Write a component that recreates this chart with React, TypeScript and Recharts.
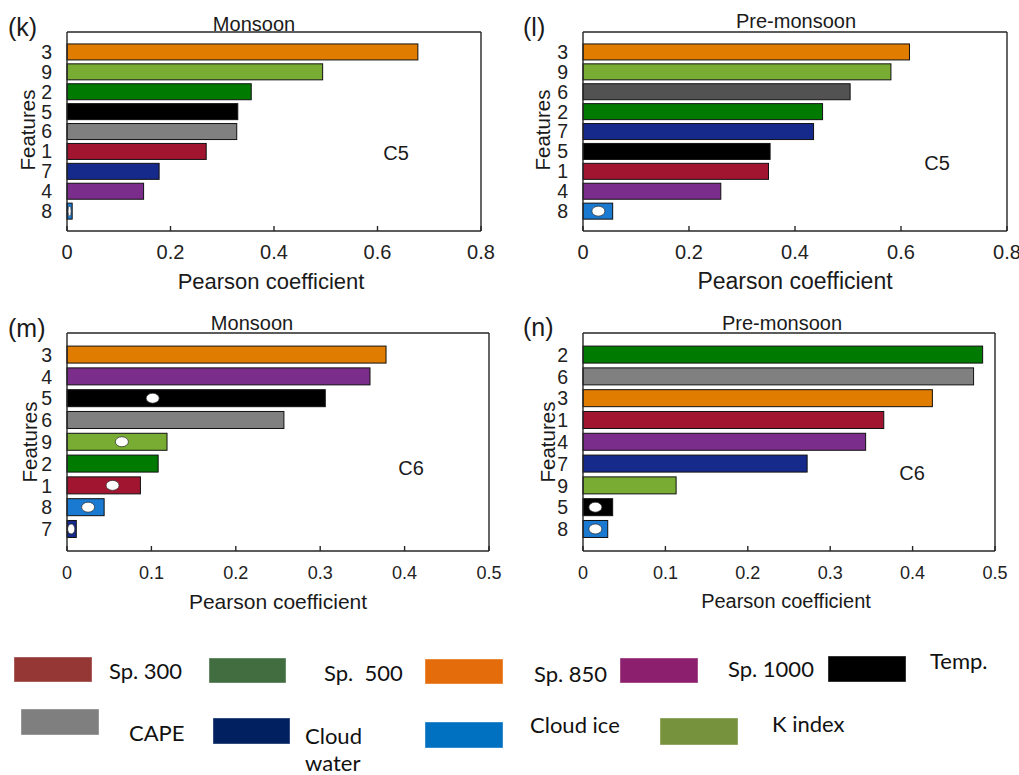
import { BarChart, Bar, XAxis, YAxis, Cell } from "recharts";

// feature id -> bar colour
const barColors: Record<string, string> = {
  "1": "#a11530",
  "2": "#007a00",
  "3": "#e07c00",
  "4": "#7b2d8b",
  "5": "#000000",
  "6": "#808080",
  "7": "#162a8c",
  "8": "#1a79d0",
  "9": "#78ac32",
};

// C5, monsoon
const kFeatures = ["3", "9", "2", "5", "6", "1", "7", "4", "8"];
const kValues = [0.678, 0.494, 0.356, 0.33, 0.328, 0.269, 0.178, 0.148, 0.01];
const kMarks = [{ feature: "8", at: 0.005 }];

// C5, pre-monsoon
const lFeatures = ["3", "9", "6", "2", "7", "5", "1", "4", "8"];
const lValues = [0.616, 0.581, 0.504, 0.452, 0.435, 0.353, 0.35, 0.26, 0.056];
const lMarks = [{ feature: "8", at: 0.029 }];

// C6, monsoon
const mFeatures = ["3", "4", "5", "6", "9", "2", "1", "8", "7"];
const mValues = [0.378, 0.359, 0.306, 0.257, 0.1185, 0.108, 0.087, 0.044, 0.011];
const mMarks = [
  { feature: "5", at: 0.1015 },
  { feature: "9", at: 0.065 },
  { feature: "1", at: 0.054 },
  { feature: "8", at: 0.025 },
  { feature: "7", at: 0.005 },
];

// C6, pre-monsoon
const nFeatures = ["2", "6", "3", "1", "4", "7", "9", "5", "8"];
const nValues = [0.485, 0.474, 0.424, 0.365, 0.343, 0.272, 0.113, 0.036, 0.03];
const nMarks = [
  { feature: "5", at: 0.015 },
  { feature: "8", at: 0.015 },
];

const ticksC5 = [0, 0.2, 0.4, 0.6, 0.8];
const ticksC6 = [0, 0.1, 0.2, 0.3, 0.4, 0.5];

const legendNames = [
  "Sp. 300",
  "Sp.\u00a0 500",
  "Sp. 850",
  "Sp. 1000",
  "Temp.",
  "CAPE",
  "Cloud water",
  "Cloud ice",
  "K index",
];
const legendColors = [
  "#953735",
  "#426d41",
  "#e46c0a",
  "#8d1f6f",
  "#000000",
  "#7f7f7f",
  "#002060",
  "#0070c0",
  "#76923c",
];

// legend placement: box rect, then text anchor (left, middle)
const legendLayout = [
  { box: [14, 657, 78, 25], text: [109, 670] },
  { box: [209, 658, 77, 25], text: [324, 672] },
  { box: [425, 659, 78, 25], text: [534, 673] },
  { box: [620, 658, 78, 25], text: [728, 668] },
  { box: [828, 656, 78, 26], text: [930, 660] },
  { box: [21, 709, 78, 26], text: [129, 732] },
  { box: [213, 718, 77, 26], text: [305, 735] },
  { box: [425, 722, 78, 26], text: [530, 724] },
  { box: [660, 718, 78, 27], text: [772, 723] },
];

const FRAME = "#262626";
const FONT = "'Liberation Sans', Arial, sans-serif";

type Mark = { feature: string; at: number };

function MarkedBar(props: any) {
  const { x, y, width, height, fill, payload } = props;
  const mark = payload.mark;
  const rx = Math.min(6.5, Math.max(1.2, width / 2 - 1));
  return (
    <g>
      <rect x={x} y={y} width={width} height={height} fill={fill} stroke="#111" strokeWidth={1} />
      {mark != null && (
        <ellipse
          cx={x + (width * mark) / payload.value}
          cy={y + height / 2}
          rx={rx}
          ry={5}
          fill="#fff"
          stroke="#222"
          strokeWidth={0.7}
        />
      )}
    </g>
  );
}

function Panel({
  features,
  values,
  marks,
  ticks,
  frame,
  tickFont,
  colorOverride = {},
}: {
  features: string[];
  values: number[];
  marks: Mark[];
  ticks: number[];
  frame: { x: number; y: number; w: number; h: number };
  tickFont: number;
  colorOverride?: Record<string, string>;
}) {
  const rows = features.map((f, i) => ({
    feature: f,
    value: values[i],
    mark: marks.find((m) => m.feature === f)?.at,
  }));
  const pad = frame.h / 20;
  const domain = [0, ticks[ticks.length - 1]];
  return (
    <div style={{ position: "absolute", left: frame.x - 60, top: frame.y - 10 }}>
      <BarChart
        width={frame.w + 81}
        height={frame.h + 60}
        data={rows}
        layout="vertical"
        barCategoryGap="10%"
        margin={{ top: 9, right: 20, bottom: 10, left: 0 }}
      >
        <XAxis
          xAxisId="bottom"
          type="number"
          domain={domain}
          ticks={ticks}
          height={40}
          tickSize={-5}
          tickMargin={tickFont === 20 ? 19 : 20}
          stroke={FRAME}
          strokeWidth={1.4}
          tick={{ fontSize: tickFont, fill: "#222", fontFamily: FONT }}
        />
        <XAxis
          xAxisId="top"
          orientation="top"
          type="number"
          domain={domain}
          ticks={ticks}
          height={1}
          tickSize={-5}
          tick={false}
          stroke={FRAME}
          strokeWidth={1.4}
        />
        <YAxis
          yAxisId="left"
          type="category"
          dataKey="feature"
          width={60}
          interval={0}
          padding={{ top: pad, bottom: pad }}
          tickLine={false}
          tickMargin={9}
          stroke={FRAME}
          strokeWidth={1.4}
          tick={{ fontSize: 19.5, fill: "#222", fontFamily: FONT }}
        />
        <YAxis
          yAxisId="right"
          orientation="right"
          type="category"
          dataKey="feature"
          width={1}
          interval={0}
          padding={{ top: pad, bottom: pad }}
          tickSize={-5}
          tick={false}
          stroke={FRAME}
          strokeWidth={1.4}
        />
        <Bar
          dataKey="value"
          xAxisId="bottom"
          yAxisId="left"
          shape={MarkedBar}
          isAnimationActive={false}
        >
          {rows.map((r) => (
            <Cell key={r.feature} fill={colorOverride[r.feature] ?? barColors[r.feature]} />
          ))}
        </Bar>
      </BarChart>
    </div>
  );
}

// panel annotations: letter, title, cluster tag, axis titles
const panelText = [
  { letter: "(k)", lx: 8, ly: 27, title: "Monsoon", tx: 254, ty: 24, tag: "C5", cx: 396, cy: 153, fx: 27, fy: 130, px: 271, py: 281, ps: 22 },
  { letter: "(l)", lx: 523, ly: 27, title: "Pre-monsoon", tx: 796, ty: 21, tag: "C5", cx: 937, cy: 163, fx: 542, fy: 130, px: 795, py: 281, ps: 23 },
  { letter: "(m)", lx: 8, ly: 328, title: "Monsoon", tx: 252, ty: 323, tag: "C6", cx: 411, cy: 468, fx: 29, fy: 442, px: 278, py: 601, ps: 21 },
  { letter: "(n)", lx: 523, ly: 327, title: "Pre-monsoon", tx: 782, ty: 323, tag: "C6", cx: 912, cy: 473, fx: 547, fy: 442, px: 786, py: 601, ps: 20 },
];

export default function App() {
  return (
    <div
      style={{
        position: "absolute",
        left: 0,
        top: 0,
        width: 1019,
        height: 775,
        background: "#fff",
        overflow: "hidden",
      }}
    >
      <Panel features={kFeatures} values={kValues} marks={kMarks} ticks={ticksC5} tickFont={20}
        frame={{ x: 67, y: 32, w: 414, h: 199 }} />
      <Panel features={lFeatures} values={lValues} marks={lMarks} ticks={ticksC5} tickFont={20}
        frame={{ x: 583, y: 32, w: 424, h: 199 }} colorOverride={{ "6": "#525252" }} />
      <Panel features={mFeatures} values={mValues} marks={mMarks} ticks={ticksC6} tickFont={18}
        frame={{ x: 67, y: 333, w: 422, h: 218 }} />
      <Panel features={nFeatures} values={nValues} marks={nMarks} ticks={ticksC6} tickFont={18}
        frame={{ x: 583, y: 333, w: 412, h: 218 }} />

      <svg
        width={1019}
        height={775}
        style={{ position: "absolute", left: 0, top: 0, pointerEvents: "none" }}
      >
        <g fontFamily={FONT} fill="#1a1a1a">
          {panelText.map((p) => (
            <g key={p.letter}>
              <text x={p.lx} y={p.ly} fontSize={25} dominantBaseline="central">{p.letter}</text>
              <text x={p.tx} y={p.ty} fontSize={20} textAnchor="middle" dominantBaseline="central">{p.title}</text>
              <text x={p.cx} y={p.cy} fontSize={20} textAnchor="middle" dominantBaseline="central">{p.tag}</text>
              <text x={p.fx} y={p.fy} fontSize={20.5} textAnchor="middle" dominantBaseline="central"
                transform={`rotate(-90 ${p.fx} ${p.fy})`}>Features</text>
              <text x={p.px} y={p.py} fontSize={p.ps} textAnchor="middle" dominantBaseline="central">
                Pearson coefficient
              </text>
            </g>
          ))}
        </g>
        <g fontFamily="Lato, 'Noto Sans', sans-serif" fill="#111">
          {legendNames.map((name, i) => {
            const [bx, by, bw, bh] = legendLayout[i].box;
            const [tx, ty] = legendLayout[i].text;
            const lines = name === "Cloud water" ? ["Cloud", "water"] : [name];
            return (
              <g key={name}>
                <rect x={bx} y={by} width={bw} height={bh} fill={legendColors[i]}
                  stroke="#ffffff" strokeOpacity={0.4} strokeWidth={1} />
                {lines.map((ln, j) => (
                  <text key={ln} x={tx} y={ty + j * 27} fontSize={22} dominantBaseline="central">{ln}</text>
                ))}
              </g>
            );
          })}
        </g>
      </svg>
    </div>
  );
}
